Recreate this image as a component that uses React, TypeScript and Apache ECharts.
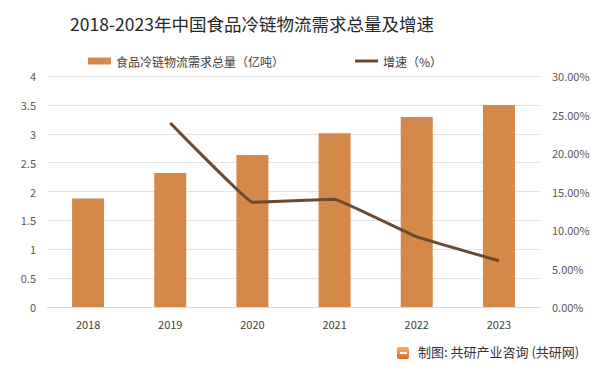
import React, { useEffect, useRef } from "react";
import * as echarts from "echarts";

const categories = ["2018", "2019", "2020", "2021", "2022", "2023"];
const demand = [1.88, 2.32, 2.63, 3.01, 3.29, 3.5];
const growth = [null, 23.9, 13.6, 14.0, 9.1, 6.0];
const barName = "食品冷链物流需求总量（亿吨）";
const lineName = "增速（%）";
const titleText = "2018-2023年中国食品冷链物流需求总量及增速";
const sourceText = "制图: 共研产业咨询 (共研网)";

export default function App() {
  const ref = useRef<HTMLDivElement>(null);
  useEffect(() => {
    if (!ref.current) return;
    const chart = echarts.init(ref.current, null, { renderer: "svg" });
    const font = "'Microsoft YaHei', 'Noto Sans CJK SC', sans-serif";
    chart.setOption({
      animation: false,
      backgroundColor: "#ffffff",
      title: {
        text: titleText,
        left: 247,
        top: 10,
        textAlign: "center",
        textStyle: { fontSize: 17.5, fontWeight: "normal", color: "#262626", fontFamily: font },
      },
      legend: [
        {
          data: [barName],
          left: 83,
          top: 50,
          icon: "rect",
          itemWidth: 23,
          itemHeight: 7,
          itemGap: 2,
          textStyle: { fontSize: 12, color: "#404040", fontFamily: font },
        },
        {
          data: [lineName],
          left: 350,
          top: 50,
          icon: "rect",
          itemWidth: 23,
          itemHeight: 3,
          textStyle: { fontSize: 12, color: "#404040", fontFamily: font },
        },
      ],
      grid: { left: 47, right: 60, top: 76, bottom: 64 },
      xAxis: {
        type: "category",
        data: categories,
        axisTick: { show: false },
        axisLine: { lineStyle: { color: "#d9d9d9" } },
        axisLabel: { fontSize: 11, color: "#404040", margin: 11, fontFamily: font },
      },
      yAxis: [
        {
          type: "value",
          min: 0,
          max: 4,
          interval: 0.5,
          axisLine: { show: false },
          axisTick: { show: false },
          splitLine: { lineStyle: { color: "#e3e3e3" } },
          axisLabel: { fontSize: 11, color: "#595959", margin: 11, fontFamily: font },
        },
        {
          type: "value",
          min: 0,
          max: 30,
          interval: 5,
          axisLine: { show: false },
          axisTick: { show: false },
          splitLine: { show: false },
          axisLabel: {
            fontSize: 11,
            color: "#595959",
            margin: 12,
            fontFamily: font,
            formatter: (v: number) => v.toFixed(2) + "%",
          },
        },
      ],
      series: [
        {
          name: barName,
          type: "bar",
          data: demand,
          barWidth: 32,
          itemStyle: { color: "#d4894a" },
        },
        {
          name: lineName,
          type: "line",
          yAxisIndex: 1,
          data: growth,
          symbol: "none",
          smooth: 0.05,
          lineStyle: { color: "#6b4a30", width: 3 },
          itemStyle: { color: "#6b4a30" },
        },
      ],
      graphic: [
        {
          type: "rect",
          left: 397,
          top: 347,
          shape: { width: 12, height: 12, r: 2 },
          style: {
            fill: new echarts.graphic.LinearGradient(0, 0, 0, 1, [
              { offset: 0, color: "#f6b26b" },
              { offset: 1, color: "#e8662a" },
            ]),
          },
        },
        {
          type: "rect",
          left: 400,
          top: 352,
          shape: { width: 7, height: 2 },
          style: { fill: "#ffffff" },
        },
        {
          type: "text",
          left: 418,
          top: 345,
          style: { text: sourceText, fontSize: 13, fill: "#333333", fontFamily: font },
        },
      ],
    });
    return () => chart.dispose();
  }, []);
  return <div ref={ref} style={{ width: 600, height: 371, margin: -8 }} />;
}
